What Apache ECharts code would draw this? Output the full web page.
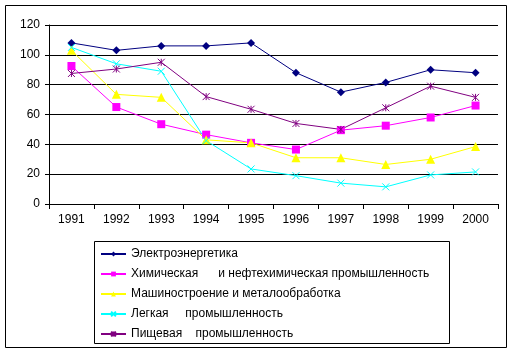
<!DOCTYPE html>
<html>
<head>
<meta charset="utf-8">
<script src="https://cdn.jsdelivr.net/npm/echarts@6/dist/echarts.min.js"></script>
<style>
  html, body { margin: 0; padding: 0; background: #fff; }
  #chart { width: 514px; height: 354px; }
</style>
</head>
<body>
<div id="chart"></div>
<script>
// годы и значения (индексы, по графику)
var years = ['1991', '1992', '1993', '1994', '1995', '1996', '1997', '1998', '1999', '2000'];
var electro = [108, 103, 106, 106, 108, 88, 75, 81.5, 90, 88];
var chem = [92.5, 65, 53.5, 46.5, 41, 36.5, 49.5, 52.5, 58, 66];
var mach = [103, 73.5, 71.5, 43, 41, 31, 31, 26.5, 30, 38.5];
var light = [105, 94, 89, 42.5, 23.5, 19, 14, 11.5, 19.5, 21.5];
var food = [87.5, 90.5, 95, 72, 63.5, 54, 50, 64.5, 79, 71.5];
var names = [
    'Электроэнергетика',
    'Химическая      и нефтехимическая промышленность',
    'Машиностроение и металообработка',
    'Легкая     промышленность',
    'Пищевая    промышленность'
];

var font = 'Liberation Sans, Arial, sans-serif';
var crossPath = 'path://M0,0L10,10M10,0L0,10';
var starPath = 'path://M0,0L10,10M10,0L0,10M5,0L5,10';

function mkSeries(name, data, color, symbol, size, stroke) {
    var s = {
        name: name,
        type: 'line',
        data: data,
        symbol: symbol,
        symbolSize: size,
        showAllSymbol: true,
        lineStyle: { color: color, width: 1 },
        itemStyle: { color: color, borderColor: color, borderWidth: stroke ? 1 : 0 },
        emphasis: { disabled: true },
        animation: false
    };
    return s;
}

var myChart = echarts.init(document.getElementById('chart'));
myChart.setOption({
    animation: false,
    textStyle: { fontFamily: font },
    graphic: [
        {
            type: 'rect',
            shape: { x: 5.5, y: 5.5, width: 501, height: 342 },
            style: { fill: 'none', stroke: '#000', lineWidth: 1 },
            z: -1
        },
        {
            type: 'rect',
            shape: { x: 94.5, y: 241.5, width: 355, height: 102 },
            style: { fill: 'none', stroke: '#000', lineWidth: 1 },
            z: -1
        }
    ],
    grid: { left: 49, right: 16, top: 25, bottom: 150 },
    legend: {
        orient: 'vertical',
        left: 100,
        top: 247,
        padding: 0,
        itemWidth: 25,
        itemHeight: 6,
        itemGap: 6,
        textStyle: { fontSize: 12, lineHeight: 14, color: '#000', fontFamily: font },
        data: names
    },
    xAxis: {
        type: 'category',
        data: years,
        boundaryGap: true,
        axisLine: { lineStyle: { color: '#000', width: 1 } },
        axisTick: { show: true, length: 5, interval: 0, lineStyle: { color: '#000' } },
        axisLabel: { color: '#000', fontSize: 12, margin: 10, interval: 0 },
        splitLine: { show: false }
    },
    yAxis: {
        type: 'value',
        min: 0,
        max: 120,
        interval: 20,
        axisLine: { show: true, lineStyle: { color: '#000', width: 1 } },
        axisTick: { show: true, length: 4, lineStyle: { color: '#000' } },
        axisLabel: { color: '#000', fontSize: 12, margin: 9 },
        splitLine: { show: true, lineStyle: { color: '#000', width: 1 } }
    },
    series: [
        mkSeries(names[0], electro, '#000080', 'diamond', 8, false),
        mkSeries(names[1], chem, '#FF00FF', 'rect', 8, false),
        mkSeries(names[2], mach, '#FFFF00', 'triangle', 9, false),
        mkSeries(names[3], light, '#00FFFF', crossPath, 7, true),
        mkSeries(names[4], food, '#800080', starPath, 7, true)
    ]
});
</script>
</body>
</html>
